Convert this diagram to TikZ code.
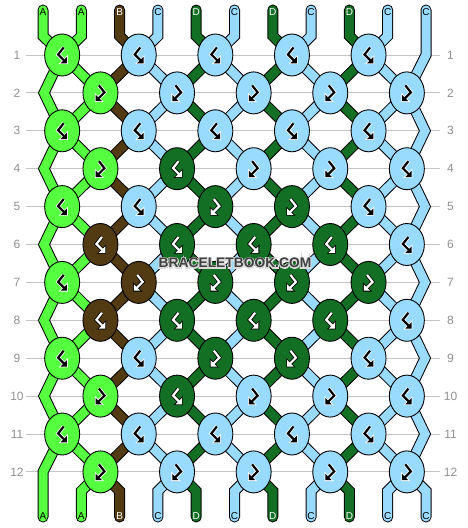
\documentclass[tikz,border=0pt]{standalone}
\usepackage{fontspec}
\setmainfont{Liberation Sans}
\usetikzlibrary{arrows.meta,shapes.geometric}
\pgfdeclarelayer{grid}
\pgfdeclarelayer{outl}
\pgfdeclarelayer{tfill}
\pgfsetlayers{grid,outl,tfill,main}
\definecolor{kg}{HTML}{55FF3F}
\definecolor{kb}{HTML}{99DAFF}
\definecolor{kd}{HTML}{136F23}
\definecolor{kn}{HTML}{523A12}
\colorlet{ag}{black}\colorlet{ab}{black}\colorlet{ad}{white}\colorlet{an}{white}
\colorlet{og}{white}\colorlet{ob}{white}\colorlet{od}{black}\colorlet{on}{black}
\definecolor{gridc}{HTML}{C4C4C4}
\definecolor{numc}{HTML}{909090}
\definecolor{wmc}{HTML}{404040}
\def\strBF{BF}
\begin{document}
\begin{tikzpicture}[x=1pt,y=-1pt,
  knot/.style={ellipse, draw=black, line width=0.9pt, minimum width=35pt, minimum height=42pt, inner sep=0pt},
  symline/.style={line width=2.2pt, line join=miter},
  symout/.style={line width=3.8pt, line join=miter},
  tout/.style={line width=11pt, black, line cap=round, line join=miter},
  tin/.style={line width=9pt, line cap=round, line join=miter},
  tlab/.style={font=\fontsize{10}{10}\selectfont, inner sep=0pt},
  numl/.style={font=\fontsize{12}{12}\selectfont, text=numc, inner sep=0pt},
  gridline/.style={gridc, line width=1pt}]
\useasboundingbox (0,0) rectangle (468,528);
% row numbers and grid lines
\foreach \rr in {1,...,12}{
  \pgfmathsetmacro\ky{55+37.9*(\rr-1)}
  \node[numl] (nl-\rr) at (17,\ky) {\rr};
  \node[numl] (nr-\rr) at (450.5,\ky) {\rr};
  \coordinate (gl-\rr) at (26,\ky);
  \coordinate (gr-\rr) at (440,\ky);
  \begin{pgfonlayer}{grid}
    \draw[gridline] (gl-\rr) -- (gr-\rr);
  \end{pgfonlayer}
}
% knots
\foreach \rr/\lst in {
  1/{g/BF,b/BF,b/BF,b/BF,b/BF},
  2/{g/FB,b/FB,b/FB,b/FB,b/FB},
  3/{g/BF,b/BF,b/BF,b/BF,b/BF},
  4/{g/FB,d/BF,b/FB,b/FB,b/BF},
  5/{g/BF,b/BF,d/FB,d/FB,b/BF},
  6/{n/BF,d/BF,d/BF,d/BF,b/BF},
  7/{g/BF,n/FB,d/FB,d/FB,d/FB},
  8/{n/BF,d/BF,d/BF,d/BF,b/BF},
  9/{g/BF,b/BF,d/FB,d/FB,b/BF},
  10/{g/FB,d/BF,b/FB,b/FB,b/BF},
  11/{g/BF,b/BF,b/BF,b/BF,b/BF},
  12/{g/FB,b/FB,b/FB,b/FB,b/FB}}{
  \pgfmathsetmacro\ky{55+37.9*(\rr-1)}
  \pgfmathtruncatemacro\ev{1-mod(\rr,2)}
  \foreach \kcol/\ktyp [count=\kk] in \lst {
    \pgfmathsetmacro\kx{43+38.3*(2*\kk-1.5+\ev)}
    \node[knot, fill=k\kcol] (k-\rr-\kk) at (\kx,\ky) {};
    \ifx\ktyp\strBF\def\sx{1}\else\def\sx{-1}\fi
    \begin{scope}[shift={(k-\rr-\kk.center)}, xscale=\sx]
      \draw[symout, color=o\kcol] (1.5,-7.5) -- (-4,-0.5) -- (2.5,6);
      \filldraw[color=o\kcol, line width=1.6pt, line join=miter] (4.8,8.3) -- (-1.6,8.3) -- (4.8,1.9) -- cycle;
      \draw[symline, color=a\kcol] (1.5,-7.5) -- (-4,-0.5) -- (2.5,6);
      \fill[color=a\kcol] (4.8,8.3) -- (-1.6,8.3) -- (4.8,1.9) -- cycle;
    \end{scope}
  }
}
% threads
\foreach \ii/\tc/\tl in {1/g/A,2/g/A,3/n/B,4/b/C,5/d/D,6/b/C,7/d/D,8/b/C,9/d/D,10/b/C,11/b/C}{
  \pgfmathsetmacro\tx{43+38.3*(\ii-1)}
  \coordinate (top-\ii) at (\tx,10);
  \coordinate (tb-\ii) at (\tx,36);
  \coordinate (bb-\ii) at (\tx,491);
  \coordinate (bot-\ii) at (\tx,517);
  \foreach \rr in {1,...,12}{
    \pgfmathsetmacro\ky{55+37.9*(\rr-1)}
    \pgfmathtruncatemacro\od{mod(\rr,2)}
    \ifnum\od=1
      \ifnum\ii=11
        \ifnum\rr=1 \coordinate (p-\ii-\rr) at (426,\ky);\else\coordinate (p-\ii-\rr) at (425,\ky);\fi
      \else
        \pgfmathtruncatemacro\kc{(\ii+1)/2}
        \coordinate (p-\ii-\rr) at (k-\rr-\kc.center);
      \fi
    \else
      \ifnum\ii=1
        \ifnum\rr=12 \coordinate (p-\ii-\rr) at (43,\ky);\else\coordinate (p-\ii-\rr) at (44,\ky);\fi
      \else
        \pgfmathtruncatemacro\kc{\ii/2}
        \coordinate (p-\ii-\rr) at (k-\rr-\kc.center);
      \fi
    \fi
  }
  \begin{pgfonlayer}{outl}
    \draw[tout] (top-\ii) -- (tb-\ii) \foreach \rr in {1,...,12}{ -- (p-\ii-\rr)} -- (bb-\ii) -- (bot-\ii);
  \end{pgfonlayer}
  \begin{pgfonlayer}{tfill}
    \draw[tin, draw=k\tc] (top-\ii) -- (tb-\ii) \foreach \rr in {1,...,12}{ -- (p-\ii-\rr)} -- (bb-\ii) -- (bot-\ii);
  \end{pgfonlayer}
  \node[tlab, text=a\tc] (tt-\ii) at (\tx,12.5) {\tl};
  \node[tlab, text=a\tc] (bt-\ii) at (\tx,516) {\tl};
}
% watermark: light outline behind, dark letters on top
\node[font=\bfseries\fontsize{13.8}{14}\selectfont, text=wmc, inner sep=0pt] (wm) at (235,263)
  {\rlap{\special{pdf:literal 1 Tr 2.2 w 0.86 0.86 0.86 RG}BRACELETBOOK.COM\special{pdf:literal 0 Tr}}BRACELETBOOK.COM};
\end{tikzpicture}
\end{document}
